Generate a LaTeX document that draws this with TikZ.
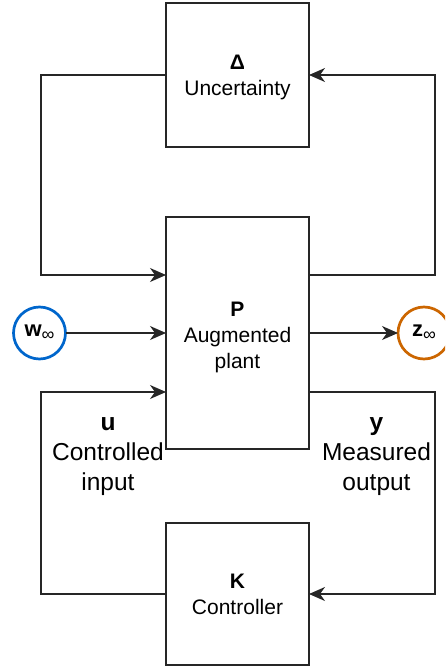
\documentclass[tikz,border=0pt]{standalone}
\usepackage{fontspec}
\setmainfont{Liberation Sans}
\usetikzlibrary{arrows.meta}
\definecolor{wblue}{HTML}{0066CC}
\definecolor{zorange}{HTML}{CC6600}
\definecolor{strokec}{HTML}{262626}
\tikzset{
  blk/.style={draw=strokec, line width=1.3pt, minimum width=143pt, inner sep=0pt, outer sep=0pt},
  conn/.style={draw=strokec, line width=1.3pt},
  arr/.style={conn, -{Stealth[length=16pt,width=14pt,inset=5pt]}},
  boxtxt/.style={align=center, inner sep=0pt, text=black, font=\fontsize{21}{26}\selectfont},
  lbl/.style={align=center, inner sep=0pt, text=black, font=\fontsize{24.5}{30}\selectfont},
  sig/.style={circle, line width=2.7pt, minimum size=52pt, inner sep=0pt, outer sep=0pt, fill=white}
}
\begin{document}
\begin{tikzpicture}[x=1pt, y=-1pt]
\clip (0,0) rectangle (445,669);
\useasboundingbox (0,0) rectangle (445,669);

% blocks
\node[blk, minimum height=144pt] (delta) at (237.5,75) {};
\node[blk, minimum height=232pt] (P) at (237.5,333) {};
\node[blk, minimum height=142pt] (K) at (237.5,594) {};

% block texts
\node[boxtxt] (deltatxt) at (237.5,77) {\textbf{Δ}\\Uncertainty};
\node[boxtxt] (ptxt) at (237.5,337.7) {\textbf{P}\\Augmented\\plant};
\node[boxtxt] (ktxt) at (237.5,594.8) {\textbf{K}\\Controller};

% signal circles
\node[sig, draw=wblue] (w) at (39.5,333) {\fontsize{22}{22}\selectfont\textbf{w}\raisebox{-4pt}{\fontsize{18}{18}\selectfont ∞}};
\node[sig, draw=zorange] (z) at (424,333) {\fontsize{22}{22}\selectfont\textbf{z}\raisebox{-4pt}{\fontsize{18}{18}\selectfont ∞}};

% side labels
\node[lbl] (utxt) at (108,456.2) {\textbf{u}\\Controlled\\input};
\node[lbl] (ytxt) at (376.5,456.2) {\textbf{y}\\Measured\\output};

% loop corner coordinates
\coordinate (ul) at (41,75);
\coordinate (ll) at (41,275);
\coordinate (ur) at (435,75);
\coordinate (lr) at (435,275);
\coordinate (bl1) at (41,392);
\coordinate (bl2) at (41,594);
\coordinate (br1) at (435,392);
\coordinate (br2) at (435,594);

% uncertainty loop
\draw[arr] (delta.west) -- (ul) -- (ll) -- (ll -| P.west);
\draw[arr] (lr -| P.east) -- (lr) -- (ur) -- (delta.east);

% exogenous signals
\draw[arr] (w.east) -- (P.west);
\draw[arr] (P.east) -- (z.west);

% controller loop
\draw[arr] (K.west) -- (bl2) -- (bl1) -- (bl1 -| P.west);
\draw[arr] (br1 -| P.east) -- (br1) -- (br2) -- (K.east);
\end{tikzpicture}
\end{document}
